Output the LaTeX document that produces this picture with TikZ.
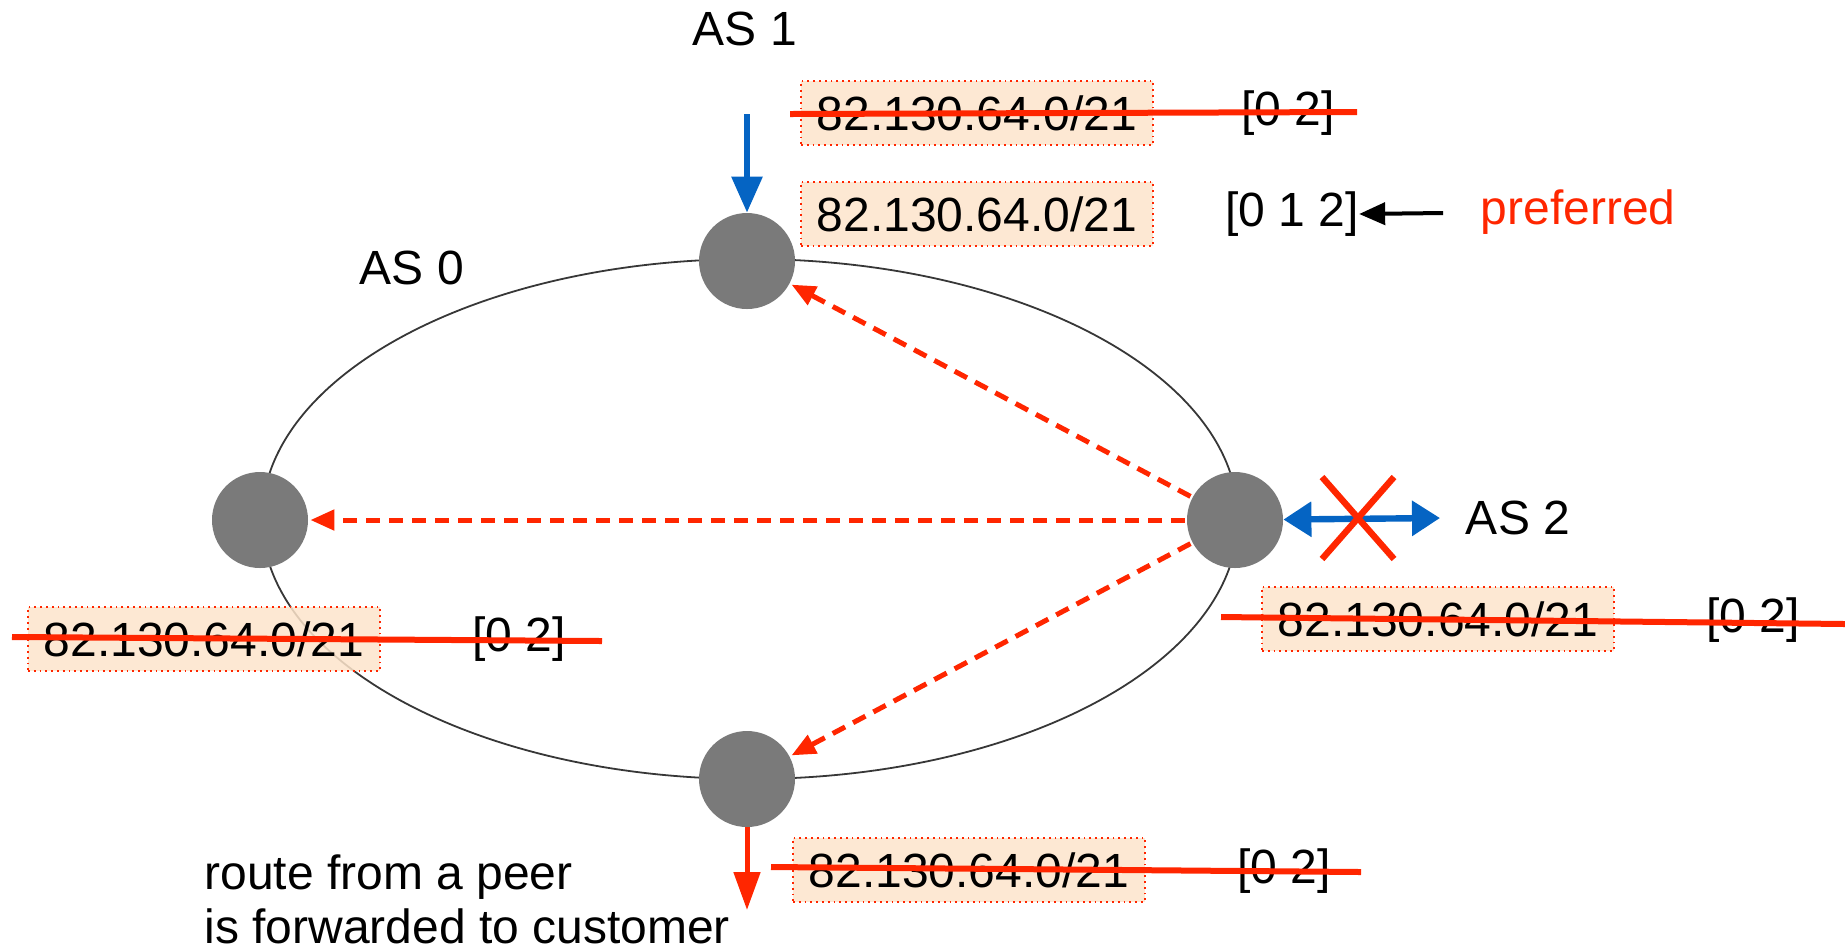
\documentclass[tikz,border=0pt]{standalone}
\usepackage{fontspec}
\setmainfont{Liberation Sans}
\usetikzlibrary{arrows.meta}
\definecolor{rred}{RGB}{255,38,0}
\definecolor{rblue}{RGB}{5,100,195}
\definecolor{peach}{RGB}{253,228,203}
\definecolor{router}{RGB}{122,122,122}
\definecolor{rim}{RGB}{55,55,55}
\begin{document}
\begin{tikzpicture}[x=0.5pt,y=-0.5pt,
  txt/.style={font=\fontsize{24}{28}\selectfont, inner sep=0pt},
  prefixbox/.style={txt, draw=rred, line width=0.9pt, dotted, fill=peach, fill opacity=0.85, text opacity=1,
    minimum width=176pt, minimum height=32pt},
  rtr/.style={circle, fill=router, minimum size=48pt, inner sep=0pt},
  strike/.style={draw=rred, line width=3pt},
  advert/.style={draw=rred, line width=2.5pt, dash pattern=on 7pt off 4.5pt,
    -{Triangle[length=12pt,width=10pt]}, shorten >=1pt, shorten <=1pt},
]
\useasboundingbox (0,0) rectangle (1845,950);

% AS 0 boundary
\draw[rim, line width=0.9pt] (750,519) ellipse [x radius=488, y radius=260];

% prefix announcements
\node[prefixbox] (boxA) at (977,113) {82.130.64.0/21};
\node[prefixbox] (boxB) at (977,214) {82.130.64.0/21};
\node[prefixbox] (boxR) at (1438,619) {82.130.64.0/21};
\node[prefixbox] (boxL) at (204,639) {82.130.64.0/21};
\node[prefixbox] (boxD) at (969,870) {82.130.64.0/21};

% AS paths
\node[txt] (pathA) at (1288,113) {[0 2]};
\node[txt] (pathB) at (1292,214) {[0 1 2]};
\node[txt] (pathR) at (1753,620) {[0 2]};
\node[txt] (pathL) at (519,639) {[0 2]};
\node[txt] (pathD) at (1284,871) {[0 2]};

% labels
\node[txt] (as1) at (745,29) {AS 1};
\node[txt] (as0) at (412,268) {AS 0};
\node[txt] (as2) at (1518,518) {AS 2};
\node[txt, text=rred] (pref) at (1578,212) {preferred};
\node[txt, anchor=west] (note1) at (204,877) {route from a peer};
\node[txt, anchor=west] (note2) at (204,926) {is forwarded to customer};

% border routers
\node[rtr] (T) at (747,261) {};
\node[rtr] (L) at (260,520) {};
\node[rtr] (R) at (1235,520) {};
\node[rtr] (B) at (747,779) {};

% internal advertisements
\draw[advert] (R) -- (T);
\draw[advert] (R) -- (L);
\draw[advert] (R) -- (B);

% route learned from AS 1
\coordinate (fromAS1) at (747,114);
\draw[rblue, line width=3pt, -{Triangle[length=18pt,width=15pt]}] (fromAS1) -- (T);

% failed session towards AS 2
\coordinate (toAS2) at (1440,518);
\draw[rblue, line width=3.2pt, {Triangle[length=14pt,width=17pt]}-{Triangle[length=14pt,width=17pt]}] (R) -- (toAS2);
\draw[rred, line width=3.2pt] (1322,477) -- (1394,559) (1394,477) -- (1322,559);

% export to customer
\coordinate (toCust) at (747,910);
\draw[rred, line width=2.5pt, -{Triangle[length=19pt,width=13pt]}] (B) -- (toCust);

% preferred marker
\coordinate (prefTail) at (1443,213);
\draw[black, line width=2pt, -{Triangle[length=13pt,width=11pt]}] (prefTail) -- (pathB.east);

% withdrawn routes
\draw[strike] (790,114) -- (1357,112);
\draw[strike] (1221,617) -- (1845,624);
\draw[strike] (12,637) -- (602,641);
\draw[strike] (771,867) -- (1361,872);
\end{tikzpicture}
\end{document}
